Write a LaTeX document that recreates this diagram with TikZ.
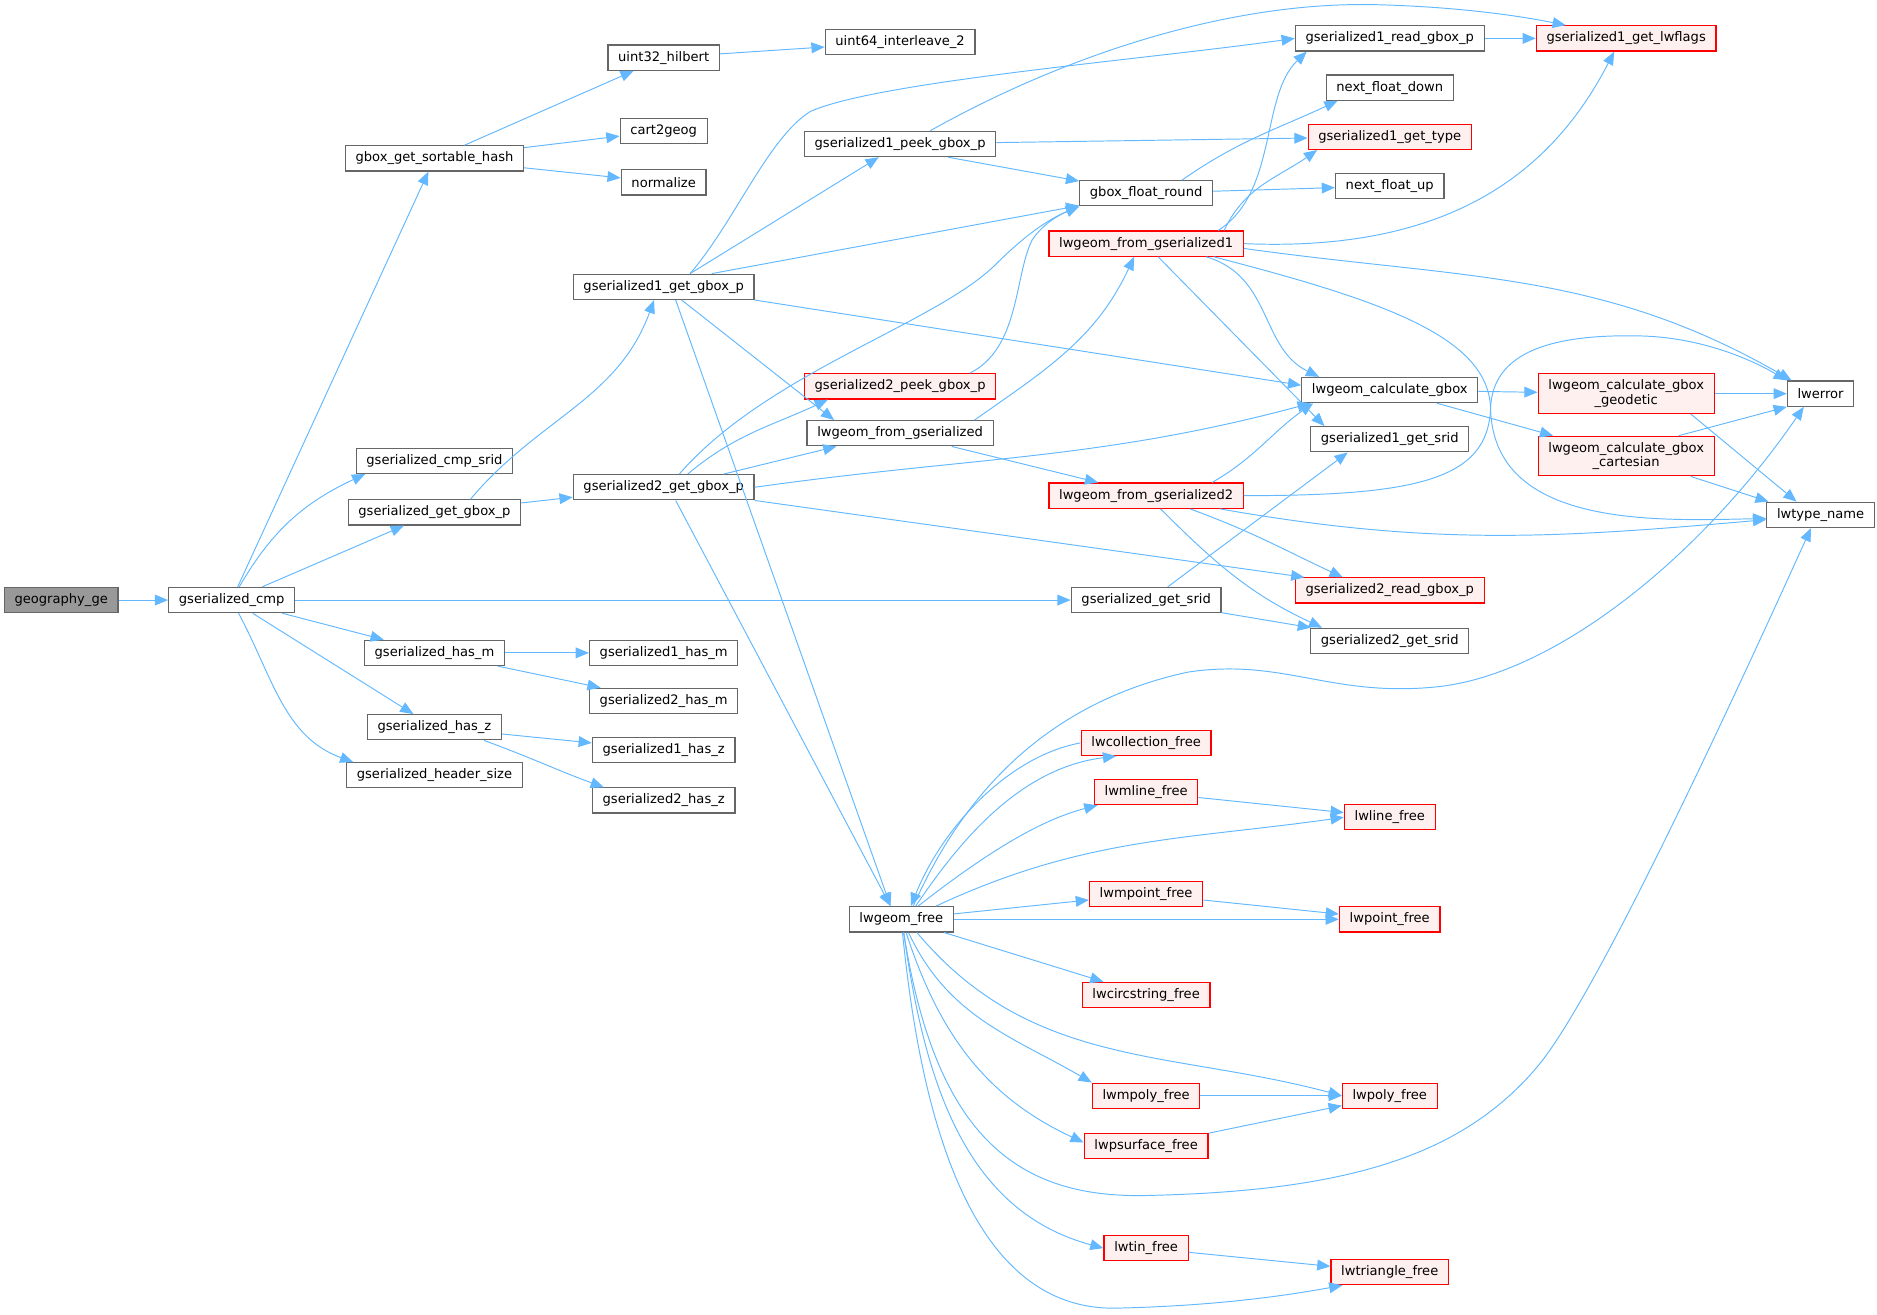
\documentclass[tikz,border=0pt]{standalone}
\usepackage{fontspec}
\setmainfont{DejaVu Sans}
\usetikzlibrary{arrows.meta}
\definecolor{callblue}{HTML}{63B8FF}
\definecolor{boxgray}{HTML}{666666}
\definecolor{truncred}{HTML}{FF0000}
\definecolor{truncfill}{HTML}{FFF0F0}
\definecolor{rootgray}{HTML}{999999}
\begin{document}
\begin{tikzpicture}[x=1pt, y=1pt,
  fn/.style={draw=boxgray, fill=white, line width=1pt, rectangle, inner xsep=8.5pt, inner ysep=0pt, minimum height=21pt, font=\fontsize{10.9pt}{11.8pt}\selectfont},
  trunc/.style={fn, draw=truncred, fill=truncfill},
  root/.style={fn, fill=rootgray},
  call/.style={draw=callblue, line width=0.8pt, -{Triangle[length=11pt, width=9pt]}}]
  \useasboundingbox (0,0) rectangle (1564,-1095);

  \node[root] (geo) at (51,-500) {geography\_ge};
  \node[fn] (cmp) at (193,-500) {gserialized\_cmp};
  \node[fn] (hash) at (362,-132) {gbox\_get\_sortable\_hash};
  \node[fn] (cmpsrid) at (362,-384) {gserialized\_cmp\_srid};
  \node[fn] (getgbox) at (362,-427) {gserialized\_get\_gbox\_p};
  \node[fn] (hasm) at (362,-544) {gserialized\_has\_m};
  \node[fn] (hasz) at (362,-606) {gserialized\_has\_z};
  \node[fn] (hdrsize) at (362,-646) {gserialized\_header\_size};
  \node[fn] (hilbert) at (553,-48) {uint32\_hilbert};
  \node[fn] (cart) at (553,-109) {cart2geog};
  \node[fn] (norm) at (553,-152) {normalize};
  \node[fn] (gbox1) at (553,-239) {gserialized1\_get\_gbox\_p};
  \node[fn] (gbox2) at (553,-406) {gserialized2\_get\_gbox\_p};
  \node[fn] (hasm1) at (553,-544) {gserialized1\_has\_m};
  \node[fn] (hasm2) at (553,-584) {gserialized2\_has\_m};
  \node[fn] (hasz1) at (553,-625) {gserialized1\_has\_z};
  \node[fn] (hasz2) at (553,-667) {gserialized2\_has\_z};
  \node[fn] (interleave) at (750,-35) {uint64\_interleave\_2};
  \node[fn] (peek1) at (750,-120) {gserialized1\_peek\_gbox\_p};
  \node[trunc] (peek2) at (750,-322) {gserialized2\_peek\_gbox\_p};
  \node[fn] (fromgs) at (750,-361) {lwgeom\_from\_gserialized};
  \node[fn] (free) at (751,-766) {lwgeom\_free};
  \node[fn] (round) at (955,-161) {gbox\_float\_round};
  \node[trunc] (from1) at (955,-203) {lwgeom\_from\_gserialized1};
  \node[trunc] (from2) at (955,-413) {lwgeom\_from\_gserialized2};
  \node[fn] (getsrid) at (955,-500) {gserialized\_get\_srid};
  \node[trunc] (collfree) at (955,-619) {lwcollection\_free};
  \node[trunc] (mlinefree) at (955,-660) {lwmline\_free};
  \node[trunc] (mpointfree) at (955,-745) {lwmpoint\_free};
  \node[trunc] (circfree) at (955,-829) {lwcircstring\_free};
  \node[trunc] (mpolyfree) at (955,-913) {lwmpoly\_free};
  \node[trunc] (psurffree) at (955,-955) {lwpsurface\_free};
  \node[trunc] (tinfree) at (955,-1040) {lwtin\_free};
  \node[fn] (read1) at (1158,-32) {gserialized1\_read\_gbox\_p};
  \node[fn] (fdown) at (1158,-73) {next\_float\_down};
  \node[trunc] (type1) at (1158,-114) {gserialized1\_get\_type};
  \node[fn] (fup) at (1158,-155) {next\_float\_up};
  \node[fn] (calc) at (1158,-325) {lwgeom\_calculate\_gbox};
  \node[fn] (srid1) at (1158,-366) {gserialized1\_get\_srid};
  \node[trunc] (read2) at (1158,-492) {gserialized2\_read\_gbox\_p};
  \node[fn] (srid2) at (1158,-534) {gserialized2\_get\_srid};
  \node[trunc] (linefree) at (1158,-681) {lwline\_free};
  \node[trunc] (pointfree) at (1158,-766) {lwpoint\_free};
  \node[trunc] (polyfree) at (1158,-913) {lwpoly\_free};
  \node[trunc] (trifree) at (1158,-1060) {lwtriangle\_free};
  \node[trunc] (lwflags) at (1355,-32) {gserialized1\_get\_lwflags};
  \node[trunc, align=center, minimum height=33pt] (geodetic) at (1355,-328) {lwgeom\_calculate\_gbox\\\_geodetic};
  \node[trunc, align=center, minimum height=33pt] (cartesian) at (1355,-380) {lwgeom\_calculate\_gbox\\\_cartesian};
  \node[fn] (lwerror) at (1517,-328) {lwerror};
  \node[fn] (typename) at (1517,-429) {lwtype\_name};

  \draw[call] (geo) -- (cmp);
  \draw[call] (cmp) -- (hash);
  \draw[call] (cmp) to[out=60, in=205] ([xshift=8pt]cmpsrid.south west);
  \draw[call] (cmp) -- (getgbox);
  \draw[call] (cmp) -- (getsrid);
  \draw[call] (cmp) -- (hasm);
  \draw[call] (cmp) -- (hasz);
  \draw[call] (cmp) to[out=-62, in=160] ([xshift=6pt]hdrsize.north west);
  \draw[call] (hash) -- (hilbert);
  \draw[call] (hash) -- (cart);
  \draw[call] (hash) -- (norm);
  \draw[call] (hilbert) -- (interleave);
  \draw[call] ([xshift=30pt]getgbox.north) to[out=50, in=250] ([xshift=-8pt]gbox1.south);
  \draw[call] (getgbox) -- (gbox2);
  \draw[call] (hasm) -- (hasm1);
  \draw[call] (hasm) -- (hasm2);
  \draw[call] (hasz) -- (hasz1);
  \draw[call] ([xshift=-15pt]hasz.south east) to[out=-20, in=160] ([xshift=10pt]hasz2.north west);

  \draw[call] ([xshift=22pt]gbox1.north) .. controls (612,-185) and (640,-115) .. (675,-93) .. controls (730,-68) and (950,-50) .. (read1.west);
  \draw[call] ([xshift=22pt]gbox1.north) -- (peek1);
  \draw[call] ([xshift=40pt]gbox1.north) -- (round);
  \draw[call] (gbox1.south east) -- ([yshift=4pt]calc.west);
  \draw[call] ([xshift=15pt]gbox1.south) -- ([xshift=-55pt]fromgs.north);
  \draw[call] ([xshift=10pt]gbox1.south) -- ([xshift=-9pt]free.north);
  \draw[call] ([xshift=13pt]gbox2.north) .. controls (640,-310) and (780,-270) .. (830,-220) .. controls (860,-190) and (880,-180) .. (round.south west);
  \draw[call] ([xshift=20pt]gbox2.north) to[out=40, in=205] ([xshift=20pt]peek2.south west);
  \draw[call] ([xshift=50pt]gbox2.north) -- ([xshift=25pt]fromgs.south west);
  \draw[call] (gbox2.east) to[out=8, in=195] ([xshift=8pt]calc.south west);
  \draw[call] (gbox2.south east) -- ([xshift=8pt]read2.north west);
  \draw[call] ([xshift=10pt]gbox2.south) -- ([xshift=-9pt]free.north);

  \draw[call] ([xshift=25pt]peek1.north) .. controls (880,-50) and (1020,0) .. (1150,-4) .. controls (1220,-6) and (1270,-14) .. ([xshift=25pt]lwflags.north west);
  \draw[call] (peek1) -- (type1);
  \draw[call] ([xshift=40pt]peek1.south) -- (round);
  \draw[call] ([xshift=58pt]peek2.north) .. controls (850,-290) and (845,-230) .. (860,-200) .. controls (870,-185) and (885,-178) .. (round.south west);
  \draw[call] ([xshift=62pt]fromgs.north) to[out=35, in=245] ([xshift=-10pt]from1.south);
  \draw[call] ([xshift=43pt]fromgs.south) -- ([xshift=-40pt]from2.north);

  \draw[call] ([xshift=30pt]round.north) to[out=35, in=205] ([xshift=10pt]fdown.south west);
  \draw[call] (round) -- (fup);

  \draw[call] ([xshift=60pt]from1.north) .. controls (1065,-160) and (1050,-80) .. ([xshift=10pt]read1.south west);
  \draw[call] ([xshift=65pt]from1.north) to[out=65, in=215] ([xshift=8pt]type1.south west);
  \draw[call] (from1.east) .. controls (1200,-210) and (1290,-150) .. ([xshift=-10pt]lwflags.south);
  \draw[call] ([xshift=50pt]from1.south) .. controls (1060,-230) and (1050,-290) .. ([xshift=15pt]calc.north west);
  \draw[call] ([xshift=10pt]from1.south) -- ([xshift=12pt]srid1.north west);
  \draw[call] ([yshift=-4pt]from1.east) to[out=-8, in=150] ([xshift=4pt]lwerror.north west);
  \draw[call] ([xshift=-25pt]from1.south east) .. controls (1150,-250) and (1240,-280) .. (1242,-340) .. controls (1244,-440) and (1380,-434) .. ([yshift=-3pt]typename.west);

  \draw[call] ([xshift=55pt]from2.north) to[out=30, in=215] ([xshift=10pt]calc.south west);
  \draw[call] (from2.east) .. controls (1180,-413) and (1240,-400) .. (1242,-340) .. controls (1244,-290) and (1300,-278) .. (1370,-280) .. controls (1420,-282) and (1460,-300) .. (lwerror.north west);
  \draw[call] ([xshift=-20pt]from2.south east) to[out=-10, in=185] ([yshift=-4pt]typename.west);
  \draw[call] ([xshift=-45pt]from2.south east) to[out=-20, in=155] ([xshift=40pt]read2.north west);
  \draw[call] ([xshift=12pt]from2.south) to[out=-45, in=155] ([xshift=10pt]srid2.north west);
  \draw[call] ([xshift=18pt]getsrid.north) -- ([xshift=-35pt]srid1.south);
  \draw[call] (getsrid) -- (srid2);

  \draw[call] (read1) -- (lwflags);
  \draw[call] (calc) -- (geodetic);
  \draw[call] (calc) -- (cartesian);
  \draw[call] (geodetic) -- (lwerror);
  \draw[call] ([xshift=-20pt]geodetic.south east) -- ([xshift=-20pt]typename.north);
  \draw[call] ([xshift=-30pt]cartesian.north east) -- (lwerror.south west);
  \draw[call] ([xshift=-20pt]cartesian.south east) -- ([xshift=2pt]typename.north west);

  \draw[call] (collfree.west) .. controls (840,-630) and (785,-690) .. ([xshift=8pt]free.north);
  \draw[call] ([xshift=12pt]free.north) .. controls (800,-700) and (850,-640) .. ([xshift=-25pt]collfree.south);
  \draw[call] ([xshift=14pt]free.north) .. controls (810,-720) and (860,-685) .. ([xshift=3pt]mlinefree.south west);
  \draw[call] ([xshift=10pt]free.north) .. controls (790,-690) and (850,-590) .. (990,-560) .. controls (1070,-548) and (1110,-582) .. (1200,-572) .. controls (1300,-560) and (1420,-460) .. ([xshift=-14pt]lwerror.south);
  \draw[call] ([xshift=-15pt]free.north east) to[out=25, in=188] (linefree.west);
  \draw[call] (free) -- (mpointfree);
  \draw[call] (free) -- (pointfree);
  \draw[call] (free) -- (circfree);
  \draw[call] ([xshift=13pt]free.south) to[out=-50, in=165] (polyfree.west);
  \draw[call] ([xshift=6pt]free.south) to[out=-65, in=150] (mpolyfree.north west);
  \draw[call] ([xshift=4pt]free.south) to[out=-72, in=155] ([yshift=3pt]psurffree.west);
  \draw[call] ([xshift=2pt]free.south) .. controls (780,-950) and (850,-1000) .. (960,-996) .. controls (1130,-992) and (1220,-960) .. (1280,-890) .. controls (1330,-832) and (1450,-570) .. ([xshift=-8pt]typename.south);
  \draw[call] ([xshift=2pt]free.south) to[out=-82, in=165] (tinfree.west);
  \draw[call] ([xshift=1pt]free.south) .. controls (770,-960) and (820,-1092) .. (930,-1090) .. controls (1020,-1088) and (1080,-1078) .. ([xshift=10pt]trifree.south west);

  \draw[call] (mlinefree) -- (linefree);
  \draw[call] (mpointfree) -- (pointfree);
  \draw[call] (mpolyfree) -- (polyfree);
  \draw[call] (psurffree) -- (polyfree);
  \draw[call] (tinfree) -- (trifree);
\end{tikzpicture}
\end{document}
